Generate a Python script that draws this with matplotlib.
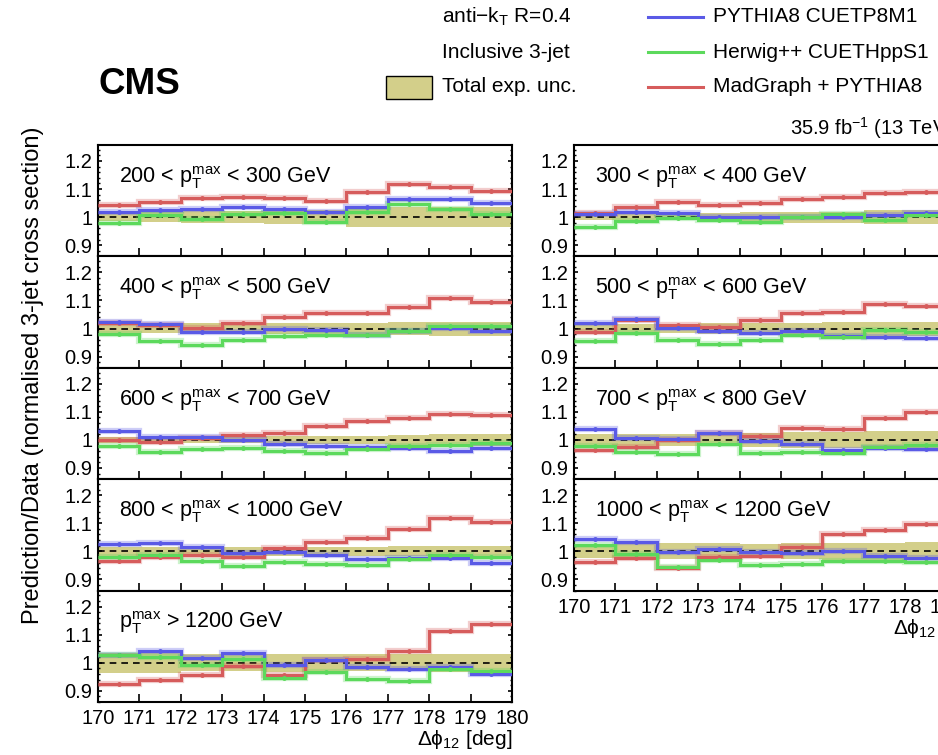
import numpy as np
import matplotlib
matplotlib.use('Agg')
import matplotlib.pyplot as plt
from matplotlib.ticker import MultipleLocator, FuncFormatter
from matplotlib.lines import Line2D
from matplotlib.patches import Rectangle

plt.rcParams['font.family'] = ['Liberation Sans', 'DejaVu Sans']
plt.rcParams['mathtext.fontset'] = 'custom'
plt.rcParams['mathtext.rm'] = 'Liberation Sans'
plt.rcParams['mathtext.it'] = 'Liberation Sans:italic'
plt.rcParams['mathtext.bf'] = 'Liberation Sans:bold'

# bin edges in delta phi_12 (deg)
edges = np.arange(170, 181, 1)

panel_labels = [
    r'200 < $\mathrm{p}_{\mathrm{T}}^{\mathrm{max}}$ < 300 GeV',
    r'400 < $\mathrm{p}_{\mathrm{T}}^{\mathrm{max}}$ < 500 GeV',
    r'600 < $\mathrm{p}_{\mathrm{T}}^{\mathrm{max}}$ < 700 GeV',
    r'800 < $\mathrm{p}_{\mathrm{T}}^{\mathrm{max}}$ < 1000 GeV',
    r'$\mathrm{p}_{\mathrm{T}}^{\mathrm{max}}$ > 1200 GeV',
    r'300 < $\mathrm{p}_{\mathrm{T}}^{\mathrm{max}}$ < 400 GeV',
    r'500 < $\mathrm{p}_{\mathrm{T}}^{\mathrm{max}}$ < 600 GeV',
    r'700 < $\mathrm{p}_{\mathrm{T}}^{\mathrm{max}}$ < 800 GeV',
    r'1000 < $\mathrm{p}_{\mathrm{T}}^{\mathrm{max}}$ < 1200 GeV',
]

# PYTHIA8 CUETP8M1 / data
pythia = [
    [1.018, 1.024, 1.028, 1.036, 1.030, 1.018, 1.036, 1.066, 1.063, 1.052],
    [1.022, 1.016, 0.986, 0.986, 0.998, 0.996, 0.976, 0.992, 1.002, 0.992],
    [1.030, 1.010, 1.012, 1.000, 0.985, 0.979, 0.976, 0.970, 0.960, 0.972],
    [1.027, 1.028, 1.014, 0.994, 0.996, 0.986, 0.972, 0.976, 0.976, 0.960],
    [1.029, 1.040, 1.018, 1.036, 0.992, 1.010, 0.986, 0.976, 0.984, 0.961],
    [1.010, 1.019, 1.014, 1.002, 1.002, 1.000, 1.000, 1.006, 1.014, 1.012],
    [1.018, 1.034, 1.002, 0.990, 0.984, 0.990, 0.972, 0.970, 0.966, 0.966],
    [1.039, 1.006, 1.004, 1.024, 0.996, 0.984, 0.963, 0.970, 0.967, 0.965],
    [1.045, 1.033, 0.996, 1.009, 0.996, 0.994, 1.000, 0.982, 0.975, 0.970],
]

# Herwig++ CUETHppS1 / data
herwig = [
    [0.978, 1.006, 0.994, 1.010, 1.016, 0.982, 1.020, 1.048, 1.030, 1.010],
    [0.982, 0.954, 0.942, 0.960, 0.972, 0.978, 0.978, 0.990, 1.010, 1.008],
    [0.978, 0.957, 0.967, 0.972, 0.960, 0.954, 0.967, 0.979, 0.982, 0.988],
    [0.978, 0.988, 0.966, 0.948, 0.961, 0.955, 0.952, 0.973, 0.988, 0.978],
    [1.027, 1.020, 0.992, 1.014, 0.946, 0.966, 0.943, 0.936, 0.978, 0.970],
    [0.966, 0.986, 0.996, 0.988, 0.984, 1.002, 1.010, 0.988, 1.006, 1.004],
    [0.955, 0.984, 0.958, 0.946, 0.960, 0.978, 0.970, 0.994, 0.986, 0.985],
    [0.978, 0.957, 0.949, 0.985, 0.954, 0.957, 0.954, 0.973, 0.982, 0.988],
    [1.022, 0.990, 0.945, 0.970, 0.951, 0.954, 0.966, 0.966, 0.963, 0.963],
]

# MadGraph + PYTHIA8 / data
madgraph = [
    [1.042, 1.054, 1.069, 1.072, 1.069, 1.059, 1.088, 1.117, 1.108, 1.094],
    [1.018, 1.012, 1.002, 1.020, 1.042, 1.054, 1.057, 1.075, 1.108, 1.093],
    [1.000, 0.994, 1.006, 1.018, 1.026, 1.051, 1.067, 1.077, 1.094, 1.088],
    [0.964, 0.978, 0.986, 0.980, 1.012, 1.033, 1.048, 1.081, 1.118, 1.106],
    [0.925, 0.940, 0.957, 0.990, 0.955, 1.008, 1.012, 1.040, 1.112, 1.139],
    [1.016, 1.036, 1.054, 1.042, 1.052, 1.066, 1.072, 1.086, 1.088, 1.090],
    [0.986, 1.030, 1.012, 1.006, 1.032, 1.054, 1.060, 1.088, 1.080, 1.078],
    [0.963, 0.973, 0.998, 1.024, 1.015, 1.043, 1.039, 1.079, 1.098, 1.097],
    [0.963, 0.976, 0.942, 0.978, 0.982, 1.016, 1.061, 1.077, 1.098, 1.097],
]

# total experimental uncertainty (half width of band around 1)
total_unc = [
    [0.015, 0.018, 0.022, 0.022, 0.025, 0.025, 0.035, 0.035, 0.035, 0.035],
    [0.015, 0.015, 0.020, 0.020, 0.020, 0.020, 0.020, 0.022, 0.025, 0.025],
    [0.012, 0.012, 0.012, 0.012, 0.015, 0.015, 0.015, 0.018, 0.020, 0.020],
    [0.015, 0.015, 0.015, 0.015, 0.015, 0.015, 0.015, 0.018, 0.020, 0.020],
    [0.035, 0.035, 0.030, 0.030, 0.032, 0.030, 0.030, 0.030, 0.032, 0.032],
    [0.012, 0.012, 0.012, 0.015, 0.018, 0.020, 0.020, 0.025, 0.025, 0.025],
    [0.015, 0.015, 0.015, 0.020, 0.020, 0.020, 0.022, 0.025, 0.025, 0.025],
    [0.020, 0.020, 0.022, 0.022, 0.025, 0.028, 0.028, 0.030, 0.030, 0.030],
    [0.025, 0.025, 0.028, 0.028, 0.025, 0.028, 0.030, 0.030, 0.032, 0.032],
]

c_pythia = '#5a5ae6'
c_herwig = '#5cd95c'
c_mad = '#d65c5c'
c_band = '#d3cf8a'

W, H = 938, 755
fig = plt.figure(figsize=(W / 100, H / 100), dpi=100)

def px(x, y, w, h):
    # pixel box -> figure fraction
    return [x / W, 1 - (y + h) / H, w / W, h / H]

ph = 111.4
top = 145
col_x = [98, 574]
aw = 414
centers = 0.5 * (edges[:-1] + edges[1:])

axes = []
for i in range(9):
    if i < 5:
        col, row = 0, i
    else:
        col, row = 1, i - 5
    ax = fig.add_axes(px(col_x[col], top + row * ph, aw, ph))
    axes.append(ax)

    unc = np.array(total_unc[i])
    ax.stairs(1 + unc, edges, baseline=1 - unc, fill=True, color=c_band, lw=0)
    ax.axhline(1, color='k', ls=(0, (4, 3)), lw=1.2, zorder=3)

    for vals, c in [(madgraph[i], c_mad), (pythia[i], c_pythia), (herwig[i], c_herwig)]:
        ax.stairs(vals, edges, baseline=None, color=c, lw=4.5, alpha=0.3, zorder=4)
        ax.stairs(vals, edges, baseline=None, color=c, lw=2.2, zorder=5)
        ax.plot(centers, vals, 'o', color=c, ms=2.5, zorder=5)

    ax.set_xlim(170, 180)
    ax.set_ylim(0.86, 1.257)
    ax.yaxis.set_major_locator(MultipleLocator(0.1))
    ax.yaxis.set_minor_locator(MultipleLocator(0.02))
    ax.yaxis.set_major_formatter(FuncFormatter(lambda v, p: '%g' % round(v, 2)))
    ax.xaxis.set_major_locator(MultipleLocator(1))
    ax.tick_params(axis='x', direction='in', length=6, width=1.2, labelsize=14.5, pad=5)
    ax.tick_params(axis='y', which='major', direction='in', length=3, width=1.2,
                   labelsize=14.5, right=True, pad=4)
    ax.tick_params(axis='y', which='minor', direction='in', length=1.5, width=1.0, right=True)
    for s in ax.spines.values():
        s.set_linewidth(1.5)

    last = (i == 4) or (i == 8)
    if not last:
        ax.tick_params(axis='x', labelbottom=False)
    else:
        ax.set_xlabel(r'$\mathrm{\Delta\phi}_{12}$ [deg]', fontsize=15, loc='right', labelpad=0)

    ax.text(0.05, 0.66, panel_labels[i], transform=ax.transAxes, fontsize=15.5,
            ha='left', va='baseline')

fig.text(33 / W, 1 - 375 / H, 'Prediction/Data (normalised 3-jet cross section)',
         rotation=90, ha='center', va='center', fontsize=17)

fig.text(98 / W, 1 - 85 / H, 'CMS', fontsize=26.5, fontweight='bold', ha='left', va='center')

# legend
fig.text(442 / W, 1 - 17 / H, r'anti$-$k$_{\mathrm{T}}$ R=0.4', fontsize=15, ha='left', va='center')
fig.text(442 / W, 1 - 52 / H, 'Inclusive 3-jet', fontsize=15, ha='left', va='center')
fig.text(442 / W, 1 - 87 / H, 'Total exp. unc.', fontsize=15, ha='left', va='center')
fig.add_artist(Rectangle((386 / W, 1 - 99 / H), 46 / W, 23 / H, transform=fig.transFigure,
                         facecolor=c_band, edgecolor='k', lw=1.0))

leg_items = [('PYTHIA8 CUETP8M1', c_pythia, 17),
             ('Herwig++ CUETHppS1', c_herwig, 52),
             ('MadGraph + PYTHIA8', c_mad, 87)]
for name, c, y in leg_items:
    fig.add_artist(Line2D([648 / W, 703 / W], [1 - y / H, 1 - y / H], transform=fig.transFigure,
                          color=c, lw=2.2))
    fig.text(713 / W, 1 - y / H, name, fontsize=15, ha='left', va='center')

fig.text(790 / W, 1 - 128 / H, r'35.9 fb$^{-1}$ (13 TeV)', fontsize=14.5, ha='left', va='center')

fig.savefig('out.png', dpi=100)
